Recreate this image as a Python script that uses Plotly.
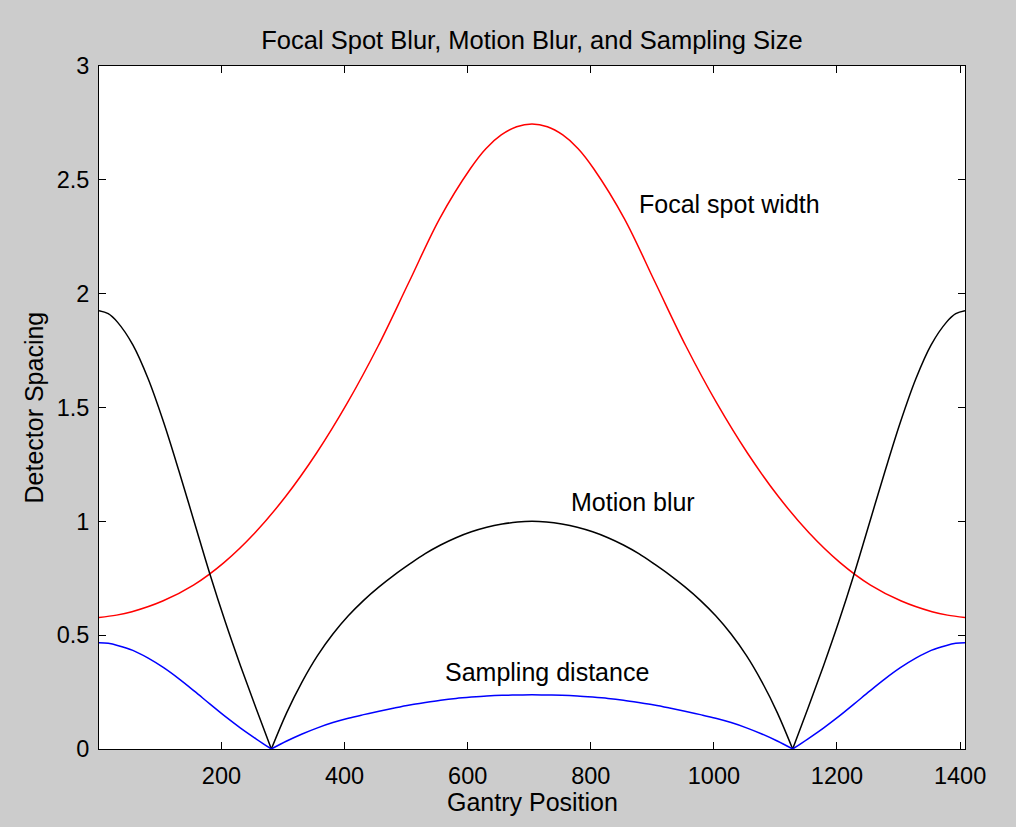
import plotly.graph_objects as go

# ---- data ----
pos_bs = [1, 16, 31, 56, 81, 106, 131, 156, 181, 206, 231, 256, 281,
          306, 331, 356, 381, 406, 431, 456, 481, 506, 531, 556, 581, 606, 631, 656, 681,
          704.5,
          728, 753, 778, 803, 828, 853, 878, 903, 928, 953, 978, 1003, 1028, 1053, 1078, 1103,
          1128,
          1153, 1178, 1203, 1228, 1253, 1278, 1303, 1328, 1353, 1378, 1393, 1408]

motion_blur = [1.925, 1.912, 1.875, 1.775, 1.625, 1.435, 1.22, 0.995, 0.77, 0.56, 0.365, 0.18, 0.0,
               0.16, 0.295, 0.41, 0.505, 0.585, 0.653, 0.712, 0.765, 0.813, 0.858, 0.896, 0.928,
               0.954, 0.974, 0.988, 0.997,
               1.0,
               0.997, 0.988, 0.974, 0.954, 0.928, 0.896, 0.858, 0.813, 0.765, 0.712, 0.653,
               0.585, 0.505, 0.41, 0.295, 0.16,
               0.0,
               0.18, 0.365, 0.56, 0.77, 0.995, 1.22, 1.435, 1.625, 1.775, 1.875, 1.912, 1.925]

sampling = [0.467, 0.464, 0.455, 0.433, 0.399, 0.357, 0.308, 0.254, 0.198, 0.143, 0.092, 0.045, 0.0,
            0.035, 0.066, 0.093, 0.116, 0.135, 0.151, 0.166, 0.18, 0.193, 0.204, 0.214, 0.222,
            0.228, 0.233, 0.236, 0.237,
            0.238,
            0.237, 0.236, 0.233, 0.228, 0.222, 0.214, 0.204, 0.193, 0.18, 0.166, 0.151,
            0.135, 0.116, 0.093, 0.066, 0.035,
            0.0,
            0.045, 0.092, 0.143, 0.198, 0.254, 0.308, 0.357, 0.399, 0.433, 0.455, 0.464, 0.467]

pos_red = [1, 29.5, 54.5, 104.5, 154.5, 204.5, 254.5, 304.5, 354.5, 404.5, 454.5,
           504.5, 554.5, 604.5, 629.5, 654.5, 679.5, 704.5,
           729.5, 754.5, 779.5, 804.5, 854.5, 904.5, 954.5, 1004.5, 1054.5, 1104.5,
           1154.5, 1204.5, 1254.5, 1304.5, 1354.5, 1379.5, 1408]
focal_spot = [0.578, 0.588, 0.603, 0.65, 0.72, 0.82, 0.95, 1.11, 1.30, 1.52, 1.77,
              2.05, 2.33, 2.55, 2.637, 2.697, 2.733, 2.745,
              2.733, 2.697, 2.637, 2.55, 2.33, 2.05, 1.77, 1.52, 1.30, 1.11,
              0.95, 0.82, 0.72, 0.65, 0.603, 0.588, 0.578]

x_ticks = [200, 400, 600, 800, 1000, 1200, 1400]
y_ticks = [0, 0.5, 1, 1.5, 2, 2.5, 3]
y_tick_text = ["0", "0.5", "1", "1.5", "2", "2.5", "3"]

labels = [("Focal spot width", 875, 2.393),
          ("Motion blur", 765, 1.085),
          ("Sampling distance", 560, 0.338)]

FONT = "Liberation Sans, Arial, Helvetica, sans-serif"


def split_at_cusps(xs, ys):
    """Break the series at its zero points so each arc is smoothed on its own."""
    ox, oy = [], []
    for i, (a, b) in enumerate(zip(xs, ys)):
        ox.append(a)
        oy.append(b)
        if b == 0 and 0 < i < len(xs) - 1:
            ox += [None, a]
            oy += [None, b]
    return ox, oy


fig = go.Figure()

fig.add_trace(go.Scatter(x=pos_red, y=focal_spot, mode="lines",
                         line=dict(color="#ff0000", width=1.5, shape="spline", smoothing=1.0),
                         showlegend=False, hoverinfo="skip"))
bx, by = split_at_cusps(pos_bs, motion_blur)
fig.add_trace(go.Scatter(x=bx, y=by, mode="lines", connectgaps=False,
                         line=dict(color="#000000", width=1.5, shape="spline", smoothing=1.0),
                         showlegend=False, hoverinfo="skip"))
sx, sy = split_at_cusps(pos_bs, sampling)
fig.add_trace(go.Scatter(x=sx, y=sy, mode="lines", connectgaps=False,
                         line=dict(color="#0000ff", width=1.5, shape="spline", smoothing=1.0),
                         showlegend=False, hoverinfo="skip"))

for text, lx, ly in labels:
    fig.add_annotation(x=lx, y=ly, xref="x", yref="y", text=text, showarrow=False,
                       xanchor="left", yanchor="middle",
                       font=dict(family=FONT, size=25, color="#000000"))

fig.add_annotation(x=0.5, y=-53 / 683, xref="paper", yref="paper", text="Gantry Position",
                   showarrow=False, xanchor="center", yanchor="middle",
                   font=dict(family=FONT, size=25, color="#000000"))
fig.add_annotation(x=-66 / 866, y=0.5, xref="paper", yref="paper", text="Detector Spacing",
                   showarrow=False, textangle=-90, xanchor="center", yanchor="middle",
                   font=dict(family=FONT, size=25, color="#000000"))

axis_common = dict(showgrid=False, zeroline=False, showline=True, linecolor="#000000",
                   linewidth=1, mirror="ticks", ticks="inside", ticklen=7, tickwidth=1,
                   tickcolor="#000000", tickfont=dict(family=FONT, size=23.5, color="#000000"))

fig.update_layout(
    width=1016, height=827,
    margin=dict(l=99, r=51, t=66, b=78),
    paper_bgcolor="#cccccc", plot_bgcolor="#ffffff",
    title=dict(text="Focal Spot Blur, Motion Blur, and Sampling Size",
               x=532 / 1016, xanchor="center", y=1 - 40 / 827, yanchor="middle",
               font=dict(family=FONT, size=25.5, color="#000000")),
    xaxis=dict(range=[1, 1408], tickvals=x_ticks, ticklabelstandoff=6, **axis_common),
    yaxis=dict(range=[0, 3], tickvals=y_ticks, ticktext=y_tick_text, ticklabelstandoff=4,
               **axis_common),
)

fig.write_html("out.html")
